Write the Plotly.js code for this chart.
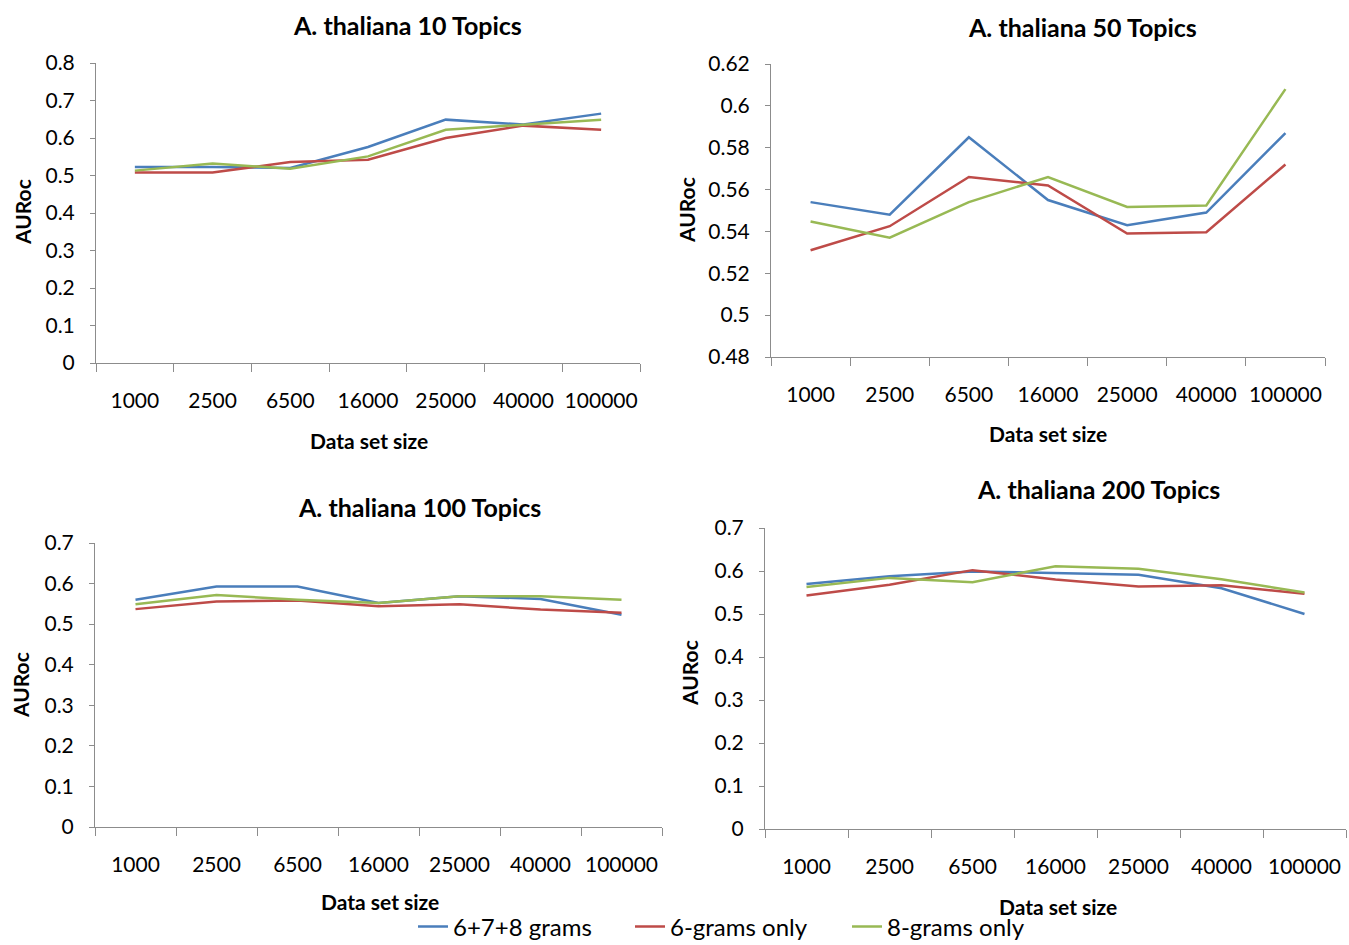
<!DOCTYPE html>
<html>
<head>
<meta charset="utf-8">
<script src="https://cdn.plot.ly/plotly-3.0.1.min.js"></script>
<style>html,body{margin:0;padding:0;background:#fff;}#chart{width:1349px;height:945px;}</style>
</head>
<body>
<div id="chart"></div>
<script>
var categories = ["1000", "2500", "6500", "16000", "25000", "40000", "100000"];
var seriesNames = ["6+7+8 grams", "6-grams only", "8-grams only"];

var t10_all = [0.523, 0.523, 0.520, 0.576, 0.649, 0.636, 0.665];
var t10_six = [0.508, 0.508, 0.536, 0.542, 0.600, 0.633, 0.622];
var t10_eight = [0.513, 0.532, 0.518, 0.551, 0.622, 0.636, 0.649];

var t50_all = [0.554, 0.548, 0.585, 0.555, 0.543, 0.549, 0.587];
var t50_six = [0.531, 0.5425, 0.566, 0.562, 0.539, 0.5396, 0.572];
var t50_eight = [0.5447, 0.537, 0.554, 0.566, 0.5517, 0.5524, 0.608];

var t100_all = [0.560, 0.593, 0.593, 0.552, 0.569, 0.562, 0.523];
var t100_six = [0.537, 0.556, 0.558, 0.544, 0.549, 0.536, 0.528];
var t100_eight = [0.549, 0.572, 0.560, 0.552, 0.569, 0.569, 0.560];

var t200_all = [0.570, 0.588, 0.599, 0.595, 0.591, 0.560, 0.500];
var t200_six = [0.543, 0.568, 0.602, 0.580, 0.564, 0.567, 0.547];
var t200_eight = [0.563, 0.584, 0.574, 0.611, 0.605, 0.581, 0.550];

var panelTitles = ["A. thaliana 10 Topics", "A. thaliana 50 Topics", "A. thaliana 100 Topics", "A. thaliana 200 Topics"];
var yTickVals1 = [0, 0.1, 0.2, 0.3, 0.4, 0.5, 0.6, 0.7, 0.8];
var yTickText1 = ["0", "0.1", "0.2", "0.3", "0.4", "0.5", "0.6", "0.7", "0.8"];
var yTickVals2 = [0.48, 0.5, 0.52, 0.54, 0.56, 0.58, 0.6, 0.62];
var yTickText2 = ["0.48", "0.5", "0.52", "0.54", "0.56", "0.58", "0.6", "0.62"];
var yTickVals3 = [0, 0.1, 0.2, 0.3, 0.4, 0.5, 0.6, 0.7];
var yTickText3 = ["0", "0.1", "0.2", "0.3", "0.4", "0.5", "0.6", "0.7"];

var colors = ["#4A7EBB", "#BE4B48", "#98B954"];
var W = 1349, H = 945;
var FONT = "Lato, 'Open Sans', sans-serif";

var panels = [
  {data: [t10_all, t10_six, t10_eight], x: [96, 640], y: [63, 363], range: [0, 0.8], tv: yTickVals1, tt: yTickText1},
  {data: [t50_all, t50_six, t50_eight], x: [771, 1325], y: [64, 357], range: [0.48, 0.62], tv: yTickVals2, tt: yTickText2},
  {data: [t100_all, t100_six, t100_eight], x: [95, 662], y: [543, 827], range: [0, 0.7], tv: yTickVals3, tt: yTickText3},
  {data: [t200_all, t200_six, t200_eight], x: [765, 1346], y: [528, 829], range: [0, 0.7], tv: yTickVals3, tt: yTickText3}
];
var titlePos = [[407, 25], [1082, 27], [419, 507], [1098, 489]];
var yTitlePos = [[23, 212], [686, 210], [20, 685], [689, 673]];
var xTitlePos = [[369, 440], [1048, 433], [380, 901], [1058, 906]];

var traces = [];
var layout = {
  width: W, height: H,
  margin: {l: 0, r: 0, t: 0, b: 0, autoexpand: false},
  paper_bgcolor: "#fff", plot_bgcolor: "#fff",
  font: {family: FONT, color: "#000"},
  showlegend: true,
  legend: {
    orientation: "h", x: 413 / W, xanchor: "left", y: 1 - 927 / H, yanchor: "middle",
    font: {family: FONT, size: 24, color: "#000"},
    entrywidth: 172, entrywidthmode: "pixels",
    bgcolor: "rgba(0,0,0,0)"
  },
  annotations: []
};

panels.forEach(function (p, i) {
  var n = i + 1;
  var xa = "x" + (n === 1 ? "" : n), ya = "y" + (n === 1 ? "" : n);
  p.data.forEach(function (vals, s) {
    traces.push({
      type: "scatter", mode: "lines", x: categories, y: vals,
      xaxis: xa, yaxis: ya, name: seriesNames[s],
      showlegend: i === 0,
      line: {color: colors[s], width: 2.5}
    });
  });
  layout["xaxis" + (n === 1 ? "" : n)] = {
    domain: [p.x[0] / W, p.x[1] / W], anchor: ya,
    type: "category", range: [-0.5, 6.5], tickangle: 0,
    showline: true, linecolor: "#8c8c8c", linewidth: 1,
    ticks: "outside", tickson: "boundaries", ticklen: 8, tickcolor: "#8c8c8c",
    showgrid: false, zeroline: false,
    tickfont: {family: FONT, size: 21, color: "#000"},
    ticklabelstandoff: 19, fixedrange: true
  };
  layout["yaxis" + (n === 1 ? "" : n)] = {
    domain: [1 - p.y[1] / H, 1 - p.y[0] / H], anchor: xa,
    range: p.range, tickmode: "array", tickvals: p.tv, ticktext: p.tt,
    showline: true, linecolor: "#8c8c8c", linewidth: 1,
    ticks: "outside", ticklen: 5, tickcolor: "#8c8c8c",
    showgrid: false, zeroline: false,
    tickfont: {family: FONT, size: 21, color: "#000"},
    ticklabelstandoff: 11, fixedrange: true
  };
  layout.annotations.push({
    text: "<b>" + panelTitles[i] + "</b>", xref: "paper", yref: "paper",
    x: titlePos[i][0] / W, y: 1 - titlePos[i][1] / H, xanchor: "center", yanchor: "middle",
    showarrow: false, font: {family: FONT, size: 25, color: "#000"}
  });
  layout.annotations.push({
    text: "<b>AURoc</b>", xref: "paper", yref: "paper", textangle: -90,
    x: yTitlePos[i][0] / W, y: 1 - yTitlePos[i][1] / H, xanchor: "center", yanchor: "middle",
    showarrow: false, font: {family: FONT, size: 21, color: "#000"}
  });
  layout.annotations.push({
    text: "<b>Data set size</b>", xref: "paper", yref: "paper",
    x: xTitlePos[i][0] / W, y: 1 - xTitlePos[i][1] / H, xanchor: "center", yanchor: "middle",
    showarrow: false, font: {family: FONT, size: 21, color: "#000"}
  });
});

Plotly.newPlot("chart", traces, layout, {displayModeBar: false, staticPlot: true});
</script>
</body>
</html>
